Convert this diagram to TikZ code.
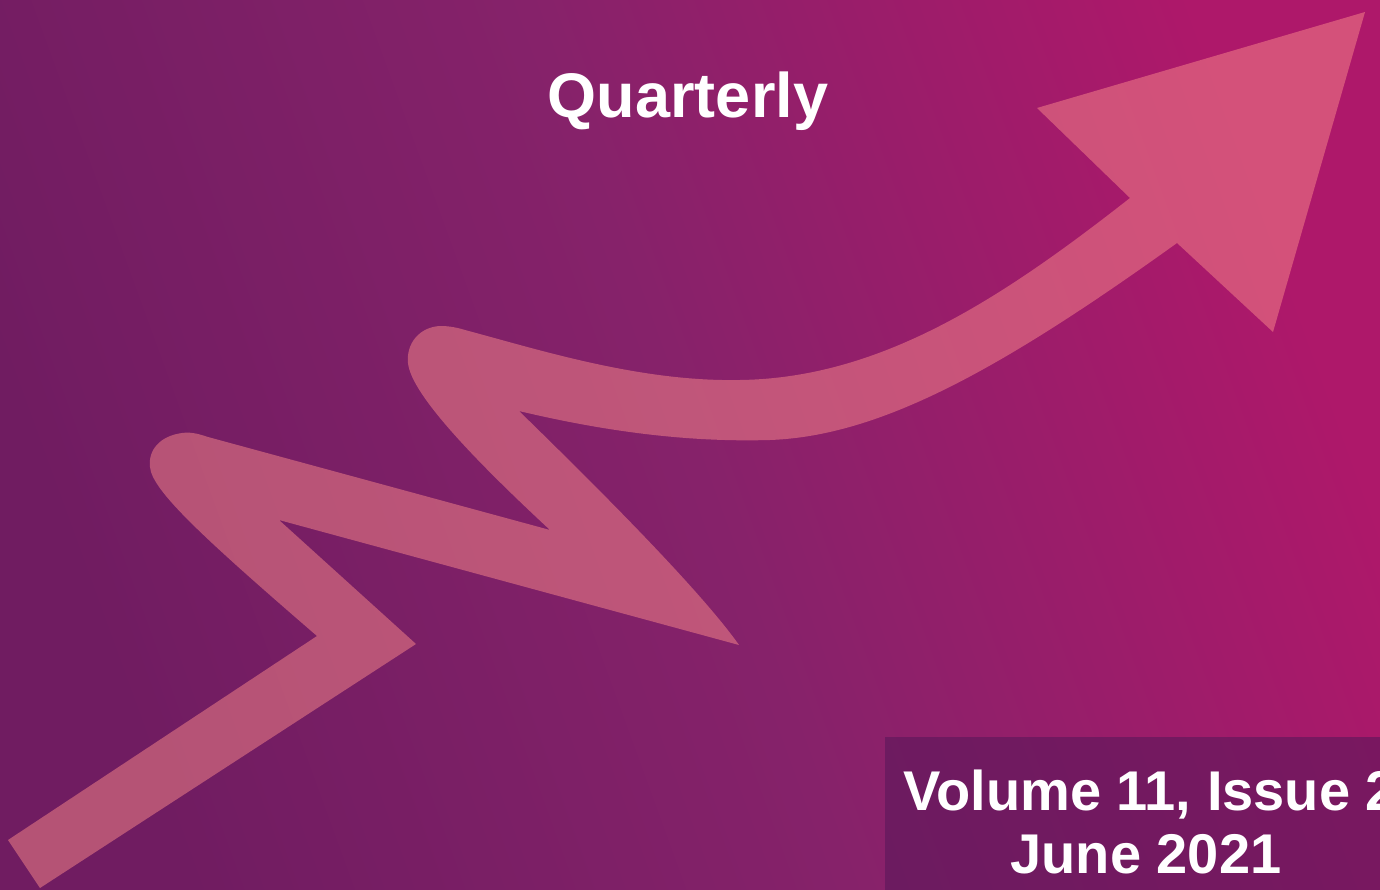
\documentclass[tikz,border=0pt]{standalone}
\usepackage{fontspec}
\setmainfont{Liberation Sans}
\definecolor{bgA}{HTML}{701C61}
\definecolor{bgB}{HTML}{86226A}
\definecolor{bgC}{HTML}{AE186A}
\definecolor{ribbon}{RGB}{250,138,138}
\definecolor{boxcol}{HTML}{5A175A}
\pgfdeclarehorizontalshading{bgshade}{100bp}{color(0bp)=(bgA); color(25bp)=(bgA); color(50bp)=(bgB); color(75bp)=(bgC); color(100bp)=(bgC)}
\tikzset{
  ribbonfill/.style={fill=ribbon, fill opacity=0.5},
  titletext/.style={text=white, font=\fontsize{63}{70}\selectfont\bfseries, inner sep=0pt},
  voltext/.style={text=white, font=\fontsize{56}{63}\selectfont\bfseries, inner sep=0pt},
  infobox/.style={fill=boxcol, fill opacity=0.6}
}
\begin{document}
\begin{tikzpicture}[x=1pt,y=-1pt]
\useasboundingbox (0,0) rectangle (1380,890);
\begin{scope}
\clip (0,0) rectangle (1380,890);
% background
\shade[shading=bgshade, shading angle=20] (0,0) rectangle (1380,890);
% ribbon arrow
\fill[ribbonfill]
 (40,888) -- (416,644) -- (279,520) -- (739,645)
 .. controls (700,590) and (600,490) .. (519,411)
 .. controls (620,435) and (700,442) .. (770,440)
 .. controls (880,436) and (1000,370) .. (1177,243)
 -- (1273,332) -- (1365,12) -- (1037,108) -- (1130,198)
 .. controls (1000,300) and (880,378) .. (740,380)
 .. controls (640,382) and (540,350) .. (465,330)
 .. controls (455,327) and (448,326) .. (440,326)
 .. controls (420,327) and (406,343) .. (408,363)
 .. controls (411,395) and (480,465) .. (550,530)
 -- (208,437)
 .. controls (196,433) and (190,432) .. (182,433)
 .. controls (160,436) and (148,450) .. (150,467)
 .. controls (152,490) and (200,535) .. (317,636)
 -- (8,840) -- cycle;
% info box
\fill[infobox] (885,737) rectangle (1380,890);
% texts
\node[titletext, anchor=base] (title) at (688,118) {Quarterly};
\node[voltext, anchor=base] (vol) at (1150,810) {Volume 11, Issue 2};
\node[voltext, anchor=base] (date) at (1146,873) {June 2021};
\end{scope}
\end{tikzpicture}
\end{document}
